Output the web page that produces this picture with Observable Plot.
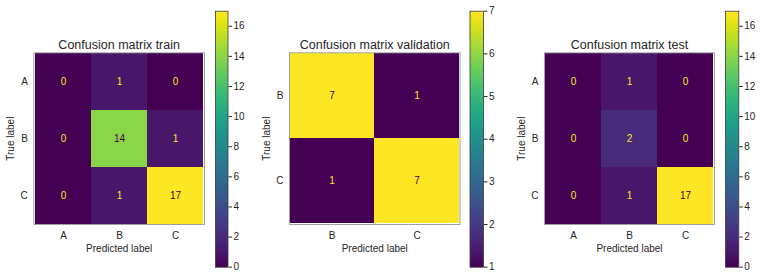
<!DOCTYPE html>
<html>
<head>
<meta charset="utf-8">
<script src="https://cdn.jsdelivr.net/npm/d3@7"></script>
<script src="https://cdn.jsdelivr.net/npm/@observablehq/plot@0.6"></script>
<style>
  html, body { margin: 0; padding: 0; background: #fff; }
  #wrap { position: relative; width: 762px; height: 279px; overflow: hidden; }
  #wrap svg { position: absolute; left: 0; top: 0; }
</style>
</head>
<body>
<div id="wrap"></div>
<script>
const titles = ["Confusion matrix train", "Confusion matrix validation", "Confusion matrix test"];
const labelsTrain = ["A", "B", "C"];
const labelsVal = ["B", "C"];
const labelsTest = ["A", "B", "C"];
const trainValues = [[0, 1, 0], [0, 14, 1], [0, 1, 17]];
const valValues = [[7, 1], [1, 7]];
const testValues = [[0, 1, 0], [0, 2, 0], [0, 1, 17]];
const ticksTrain = [0, 2, 4, 6, 8, 10, 12, 14, 16];
const ticksVal = [1, 2, 3, 4, 5, 6, 7];
const ticksTest = [0, 2, 4, 6, 8, 10, 12, 14, 16];

const W = 762, H = 279;
const FONT = "'Liberation Sans', Arial, sans-serif";
const INK = "#262626";
const vmin = d3.interpolateViridis(0), vmax = d3.interpolateViridis(1);

// layout (pixel frames)
const layout = [
  {hx: [33.3, 204], cx: [215, 227.5]},
  {hx: [289, 459.5], cx: [469.5, 483]},
  {hx: [544, 714], cx: [725, 738.3]}
];
const hy = [52.3, 224], cy = [10.7, 266.7];

const panels = [
  {title: titles[0], labels: labelsTrain, values: trainValues, ticks: ticksTrain},
  {title: titles[1], labels: labelsVal, values: valValues, ticks: ticksVal},
  {title: titles[2], labels: labelsTest, values: testValues, ticks: ticksTest}
];

const wrap = document.getElementById("wrap");

panels.forEach((p, i) => {
  const L = layout[i];
  const data = [];
  p.values.forEach((row, r) => row.forEach((v, c) => data.push({t: p.labels[r], pr: p.labels[c], v})));
  const flat = p.values.flat();
  const lo = d3.min(flat), hi = d3.max(flat);
  const thresh = (lo + hi) / 2;

  const heat = Plot.plot({
    width: W, height: H,
    marginLeft: L.hx[0], marginRight: W - L.hx[1],
    marginTop: hy[0], marginBottom: H - hy[1],
    style: {fontFamily: FONT, fontSize: "10px", color: INK, background: "transparent"},
    x: {domain: p.labels, padding: 0, axis: null},
    y: {domain: p.labels, padding: 0, axis: null},
    color: {type: "linear", scheme: "viridis", domain: [lo, hi]},
    marks: [
      Plot.cell(data, {x: "pr", y: "t", fill: "v"}),
      Plot.text(data, {x: "pr", y: "t", text: d => String(d.v), fontSize: 10,
        fill: d => d.v < thresh ? vmax : vmin}),
      Plot.frame({stroke: "#a0a0a0", strokeWidth: 1}),
      Plot.axisX({tickSize: 0, tickPadding: 7, label: null, fontSize: 10, fill: INK}),
      Plot.axisY({tickSize: 0, tickPadding: 6, label: null, fontSize: 10, fill: INK}),
      Plot.text([p.title], {frameAnchor: "top", lineAnchor: "bottom", dy: -4, fontSize: 12.5, fill: INK}),
      Plot.text(["Predicted label"], {frameAnchor: "bottom", lineAnchor: "middle", dy: 24.5, fontSize: 10, fill: INK}),
      Plot.text(["True label"], {frameAnchor: "left", textAnchor: "middle", lineAnchor: "middle", rotate: -90, dx: -23, fontSize: 10, fill: INK})
    ]
  });
  wrap.appendChild(heat);

  const bar = Plot.plot({
    width: W, height: H,
    marginLeft: L.cx[0], marginRight: W - L.cx[1],
    marginTop: cy[0], marginBottom: H - cy[1],
    style: {fontFamily: FONT, fontSize: "10px", color: INK, background: "transparent"},
    x: {domain: [0, 1], axis: null},
    y: {domain: [lo, hi], axis: null},
    color: {type: "linear", scheme: "viridis", domain: [lo, hi]},
    marks: [
      Plot.raster({x1: 0, x2: 1, y1: lo, y2: hi, width: 1, height: 256, fill: (x, y) => y, imageRendering: "auto"}),
      Plot.frame({stroke: "#3a3a3a", strokeWidth: 0.8}),
      Plot.axisY({anchor: "right", ticks: p.ticks, tickSize: 3.5, tickPadding: 2, label: null, fontSize: 10, fill: INK, stroke: INK, tickFormat: d => String(d)})
    ]
  });
  wrap.appendChild(bar);
});
</script>
</body>
</html>
